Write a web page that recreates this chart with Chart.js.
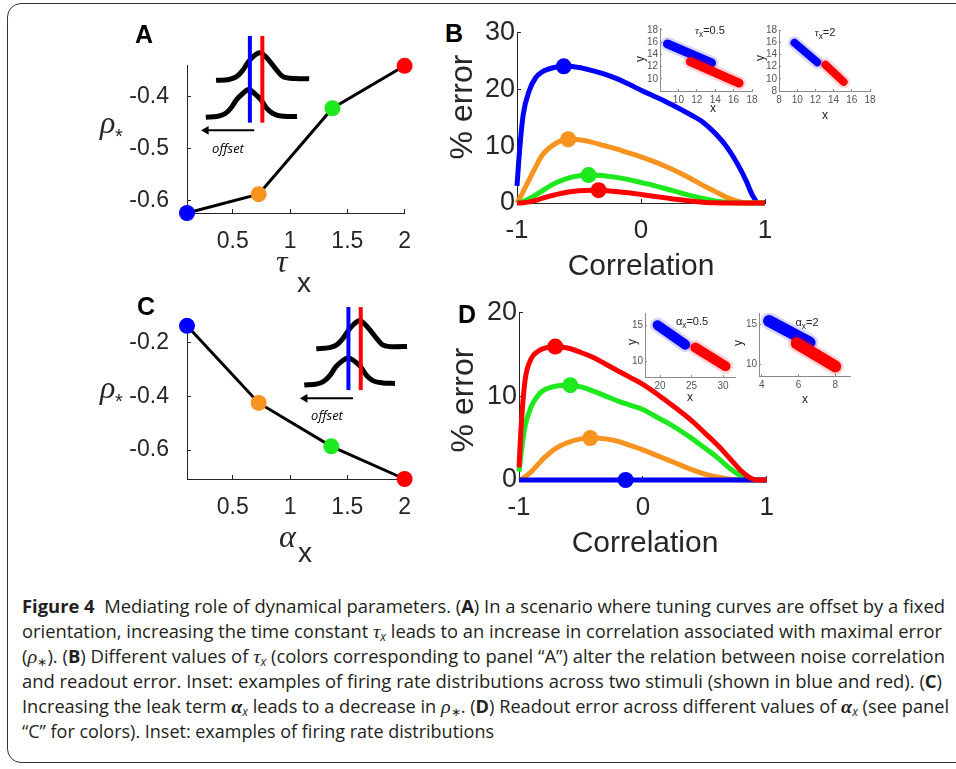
<!DOCTYPE html>
<html>
<head>
<meta charset="utf-8">
<title>Figure 4</title>
<script src="https://cdn.jsdelivr.net/npm/chart.js@4/dist/chart.umd.min.js"></script>
<style>
  body { margin: 0; width: 956px; height: 769px; background: #fff; position: relative; overflow: hidden;
         font-family: "Liberation Sans", Arial, sans-serif; }
  .frame { position: absolute; left: 7px; top: 3px; width: 1000px; height: 758px;
           border: 1.5px solid #333; border-radius: 14px; }
  canvas { position: absolute; }
  .t { position: absolute; white-space: nowrap; line-height: 1; color: #262626; }
  .g { font-family: "Liberation Serif", serif; font-style: italic; }
  .sb { font-size: 0.75em; position: relative; top: 0.35em; }
  .cap { position: absolute; left: 22px; white-space: nowrap; line-height: 1; color: #231f20;
         font-family: "Open Sans", sans-serif; font-size: 18px; transform-origin: 0 0; }
  .cap .gs { font-family: "Liberation Serif", serif; font-style: italic; font-size: 1.1em; }
  .cap sub { font-size: 0.65em; vertical-align: -0.25em; line-height: 0; }
</style>
</head>
<body>
<div class="frame"></div>
<script>
// panel A / C : parameter vs rho*
const tauX = [0.1, 0.726, 1.37, 2.0];
const rhoStarTau = [-0.623, -0.587, -0.423, -0.342];
const alphaX = [0.1, 0.726, 1.36, 2.0];
const rhoStarAlpha = [-0.139, -0.425, -0.586, -0.707];
const paramColors = ['#0000ff', '#f7931e', '#1ee81e', '#ff0000'];
const ticksParam = [0.5, 1, 1.5, 2];
const ticksRhoA = [-0.6, -0.5, -0.4];
const ticksRhoC = [-0.6, -0.4, -0.2];

// panel B / D : % error vs correlation
const corr = [-1, -0.98, -0.95, -0.9, -0.85, -0.8, -0.7, -0.6, -0.5, -0.4, -0.3, -0.2, -0.1,
              0, 0.1, 0.2, 0.3, 0.4, 0.5, 0.6, 0.7, 0.8, 0.85, 0.9, 0.95, 1];
const errB_blue   = [3, 9, 15.5, 19.8, 22, 23, 23.8, 24, 23.8, 23.3, 22.7, 21.9, 20.9, 19.8, 18.8, 17.8, 16.7, 15.5, 14.2, 12.2, 9.6, 6, 3.8, 1.3, 0, 0];
const errB_orange = [0, 0.8, 2, 4.2, 6.3, 8.3, 10.3, 11.2, 11.1, 10.7, 10.1, 9.5, 8.8, 8.1, 7.3, 6.4, 5.4, 4.3, 3.1, 2.0, 0.9, 0.2, 0, 0, 0, 0];
const errB_green  = [0, 0.1, 0.3, 0.8, 1.4, 2.1, 3.4, 4.3, 4.8, 4.9, 4.8, 4.5, 4.1, 3.6, 3.1, 2.5, 1.9, 1.3, 0.8, 0.35, 0.1, 0, 0, 0, 0, 0];
const errB_red    = [0, 0, 0.05, 0.2, 0.45, 0.8, 1.4, 1.9, 2.15, 2.25, 2.2, 2.0, 1.8, 1.5, 1.2, 0.9, 0.6, 0.35, 0.15, 0.05, 0, 0, 0, 0, 0, 0];
const errD_blue   = [0, 0, 0, 0, 0, 0, 0, 0, 0, 0, 0, 0, 0, 0, 0, 0, 0, 0, 0, 0, 0, 0, 0, 0, 0, 0];
const errD_orange = [0, 0.1, 0.4, 1, 1.8, 2.6, 3.8, 4.5, 4.9, 5.0, 4.9, 4.6, 4.1, 3.6, 3.0, 2.4, 1.8, 1.2, 0.7, 0.35, 0.1, 0, 0, 0, 0, 0];
const errD_green  = [1, 3.5, 6.5, 8.8, 10, 10.7, 11.2, 11.3, 11.1, 10.6, 10, 9.4, 8.9, 8.4, 7.6, 6.8, 5.9, 4.9, 3.8, 2.7, 1.4, 0.4, 0.1, 0, 0, 0];
const errD_red    = [1.5, 7, 12, 14.5, 15.3, 15.7, 15.9, 15.7, 15.2, 14.6, 13.8, 13, 12.2, 11.4, 10.4, 9.3, 8.2, 7, 5.6, 4.2, 2.6, 1, 0.4, 0.05, 0, 0];
const peakB = [24, 11.2, 4.9, 2.25];   // error at rho* (blue, orange, green, red)
const peakD = [0, 5.0, 11.3, 15.9];
const ticksCorr = [-1, 0, 1];
const ticksErrB = [0, 10, 20, 30];
const ticksErrD = [0, 10, 20];

// inset clouds: [start, end] of each elongated point cloud
const cloudB1_blue = [[8.8, 15.7], [13.6, 12.6]];
const cloudB1_red  = [[11.3, 12.8], [16.6, 9.3]];
const cloudB2_blue = [[9.7, 15.9], [12.2, 12.7]];
const cloudB2_red  = [[13.1, 12.3], [15.1, 9.5]];
const cloudD1_blue = [[19.6, 15.0], [24.0, 12.3]];
const cloudD1_red  = [[25.6, 11.9], [30.4, 9.3]];
const cloudD2_blue = [[4.4, 15.4], [6.6, 12.7]];
const cloudD2_red  = [[5.9, 12.6], [8.0, 9.7]];
const ticksB_xy  = [10, 12, 14, 16, 18];
const ticksB2_xy = [8, 10, 12, 14, 16, 18];
const ticksD1_x = [20, 25, 30];
const ticksD2_x = [4, 6, 8];
const ticksD_y  = [10, 15];

// schematic tuning curves (local units of the schematic box)
const tuneA_top_x = [28, 42, 50, 56, 62, 68, 75, 81, 87, 94, 100, 113, 128];
const tuneA_top_y = [58, 57, 54, 48, 39, 32, 28, 32, 39, 48, 54, 56, 56.3];
const tuneA_bot_x = [17, 30, 38, 44, 50, 57, 63, 69, 76, 82, 89, 100, 115];
const tuneA_bot_y = [98, 97, 94, 88, 79, 72, 68, 72, 79, 88, 94, 97, 97.3];
const markA = { blue: 64.3, red: 77.7, y0: 9.7, y1: 104, arrowFrom: 69, arrowTo: 13.3, arrowY: 112.3 };
const tuneC_top_x = [23, 37, 45, 51, 57, 63, 70, 76, 82, 89, 95, 108, 121];
const tuneC_top_y = [53.3, 52, 49, 43, 34, 27, 22.3, 27, 34, 43, 49, 51, 50.7];
const tuneC_bot_x = [10, 24, 32, 38, 44, 51, 57.7, 64, 71, 77, 84, 95, 108];
const tuneC_bot_y = [92.7, 91.5, 88, 82, 73, 66.5, 63.3, 66.5, 73, 82, 88, 90.5, 91];
const markC = { blue: 57.7, red: 71, y0: 7.7, y1: 98.3, arrowFrom: 62.7, arrowTo: 6.7, arrowY: 107.3 };

Chart.defaults.animation = false;
Chart.defaults.responsive = false;
Chart.defaults.devicePixelRatio = 1;
Chart.defaults.plugins.legend.display = false;
Chart.defaults.plugins.tooltip.enabled = false;
Chart.defaults.font.family = '"Liberation Sans", Arial, sans-serif';

const AX = '#262626';

function addCanvas(b) {
  const c = document.createElement('canvas');
  c.width = b.w; c.height = b.h;
  c.style.left = b.x + 'px'; c.style.top = b.y + 'px';
  document.body.appendChild(c);
  return c;
}

function scale(min, max, ticks, fixed, o) {
  return {
    type: 'linear', min: min, max: max,
    afterBuildTicks: s => { s.ticks = ticks.map(v => ({ value: v })); },
    afterFit: s => { if (s.isHorizontal()) s.height = fixed; else s.width = fixed; },
    border: { display: true, color: o.axis, width: 1 },
    grid: { drawOnChartArea: false, drawTicks: true, tickLength: -o.tl, color: o.axis },
    ticks: { autoSkip: false, maxRotation: 0, color: o.color, font: { size: o.size }, padding: o.pad,
             callback: v => String(v) }
  };
}

function plot(box, area, xs, ys, datasets) {
  return new Chart(addCanvas(box), {
    type: 'scatter',
    data: { datasets: datasets },
    options: {
      layout: { padding: { left: 0, top: area.top - box.y, right: box.x + box.w - area.right, bottom: 0 } },
      scales: {
        x: scale(xs.min, xs.max, xs.ticks, box.y + box.h - area.bottom, xs),
        y: scale(ys.min, ys.max, ys.ticks, area.left - box.x, ys)
      }
    }
  });
}

const pts = (xs, ys) => xs.map((x, i) => ({ x: x, y: ys[i] }));
const curve = (ys, color, order) => ({ data: pts(corr, ys), showLine: true, borderColor: color, borderWidth: 5,
  pointRadius: 0, cubicInterpolationMode: 'monotone', clip: false, order: order });
const dots = (xs, ys) => ({ data: pts(xs, ys), showLine: false, pointRadius: 8, pointBorderWidth: 0,
  pointBackgroundColor: paramColors, clip: false, order: 0 });

// ---- A
plot({ x: 100, y: 30, w: 330, h: 240 }, { left: 187, top: 57, right: 405, bottom: 213 },
  { min: 0.1, max: 2, ticks: ticksParam, axis: AX, color: AX, size: 23, tl: 4, pad: 19 },
  { min: -0.623, max: -0.342, ticks: ticksRhoA, axis: AX, color: AX, size: 23, tl: 4, pad: 22 },
  [ { data: pts(tauX, rhoStarTau), showLine: true, borderColor: '#000', borderWidth: 3, pointRadius: 0, clip: false, order: 1 },
    dots(tauX, rhoStarTau) ]);

// ---- C
plot({ x: 100, y: 290, w: 330, h: 240 }, { left: 187, top: 320, right: 405, bottom: 479 },
  { min: 0.1, max: 2, ticks: ticksParam, axis: AX, color: AX, size: 23, tl: 4, pad: 19 },
  { min: -0.707, max: -0.139, ticks: ticksRhoC, axis: AX, color: AX, size: 23, tl: 4, pad: 22 },
  [ { data: pts(alphaX, rhoStarAlpha), showLine: true, borderColor: '#000', borderWidth: 3, pointRadius: 0, clip: false, order: 1 },
    dots(alphaX, rhoStarAlpha) ]);

// ---- B
plot({ x: 470, y: 10, w: 320, h: 240 }, { left: 517, top: 32, right: 765, bottom: 203 },
  { min: -1, max: 1, ticks: ticksCorr, axis: AX, color: AX, size: 26, tl: 4, pad: 16 },
  { min: 0, max: 30, ticks: ticksErrB, axis: AX, color: AX, size: 27, tl: 4, pad: 6 },
  [ curve(errB_blue, paramColors[0], 5), curve(errB_orange, paramColors[1], 4),
    curve(errB_green, paramColors[2], 3), curve(errB_red, paramColors[3], 2),
    dots(rhoStarTau, peakB) ]);

// ---- D
plot({ x: 470, y: 290, w: 320, h: 240 }, { left: 519, top: 308, right: 768, bottom: 480 },
  { min: -1, max: 1, ticks: ticksCorr, axis: AX, color: AX, size: 26, tl: 4, pad: 16 },
  { min: 0, max: 20, ticks: ticksErrD, axis: AX, color: AX, size: 27, tl: 4, pad: 6 },
  [ curve(errD_orange, paramColors[1], 5), curve(errD_green, paramColors[2], 4),
    curve(errD_blue, paramColors[0], 3), curve(errD_red, paramColors[3], 2),
    dots(rhoStarAlpha, peakD) ]);

// ---- scatter insets
function cloud(seg, color, width) {
  const d = seg.map(p => ({ x: p[0], y: p[1] }));
  return [
    { data: d, showLine: true, borderColor: color.replace('1)', '0.16)'), borderWidth: width + 5, borderCapStyle: 'round', pointRadius: 0 },
    { data: d, showLine: true, borderColor: color, borderWidth: width, borderCapStyle: 'round', pointRadius: 0 }
  ];
}
const BLUE = 'rgba(0,0,255,1)', RED = 'rgba(255,0,0,1)';
const IAX = '#8a8a8a', ITK = '#555';
function inset(box, area, xs, ys, blue, red, w) {
  const ix = Object.assign({ axis: IAX, color: ITK, size: 10, tl: 2, pad: 5 }, xs);
  const iy = Object.assign({ axis: IAX, color: ITK, size: 10, tl: 2, pad: 4 }, ys);
  plot(box, area, ix, iy, [...cloud(red, RED, w), ...cloud(blue, BLUE, w)]);
}
inset({ x: 625, y: 16, w: 140, h: 100 }, { left: 660, top: 28, right: 752, bottom: 91 },
  { min: 8, max: 18, ticks: ticksB_xy }, { min: 8, max: 18.3, ticks: ticksB_xy }, cloudB1_blue, cloudB1_red, 9);
inset({ x: 745, y: 16, w: 140, h: 100 }, { left: 779, top: 30, right: 870, bottom: 91 },
  { min: 8, max: 18, ticks: ticksB2_xy }, { min: 8, max: 18, ticks: ticksB2_xy }, cloudB2_blue, cloudB2_red, 8);
inset({ x: 610, y: 300, w: 140, h: 100 }, { left: 645, top: 313, right: 735, bottom: 377 },
  { min: 17.6, max: 31.9, ticks: ticksD1_x }, { min: 7.8, max: 16.7, ticks: ticksD_y }, cloudD1_blue, cloudD1_red, 10);
inset({ x: 725, y: 300, w: 140, h: 100 }, { left: 759, top: 313, right: 850, bottom: 376 },
  { min: 3.85, max: 8.8, ticks: ticksD2_x }, { min: 8.5, max: 16.4, ticks: ticksD_y }, cloudD2_blue, cloudD2_red, 12);

// ---- schematic tuning curves
function schematic(box, topX, topY, botX, botY, m) {
  const line = (d, color, w) => ({ data: d, showLine: true, borderColor: color, borderWidth: w, pointRadius: 0,
    cubicInterpolationMode: 'monotone', clip: false });
  new Chart(addCanvas(box), {
    type: 'scatter',
    data: { datasets: [
      line(pts(topX, topY), '#000', 5),
      line(pts(botX, botY), '#000', 5),
      line([{ x: m.blue, y: m.y0 }, { x: m.blue, y: m.y1 }], '#0000ff', 4),
      line([{ x: m.red, y: m.y0 }, { x: m.red, y: m.y1 }], '#ff0000', 4),
      line([{ x: m.arrowFrom, y: m.arrowY }, { x: m.arrowTo + 4, y: m.arrowY }], '#000', 2),
      { data: [{ x: m.arrowTo + 4, y: m.arrowY }], pointStyle: 'triangle', rotation: -90, pointRadius: 5,
        pointBackgroundColor: '#000', pointBorderWidth: 0, clip: false }
    ].reverse() },
    options: {
      layout: { padding: 0 },
      scales: {
        x: { type: 'linear', display: false, min: 0, max: box.w },
        y: { type: 'linear', display: false, min: 0, max: box.h, reverse: true }
      }
    }
  });
}
schematic({ x: 185, y: 22, w: 145, h: 125 }, tuneA_top_x, tuneA_top_y, tuneA_bot_x, tuneA_bot_y, markA);
schematic({ x: 290, y: 295, w: 135, h: 120 }, tuneC_top_x, tuneC_top_y, tuneC_bot_x, tuneC_bot_y, markC);

// ---- text
function txt(html, x, base, size, extra) {
  const d = document.createElement('div');
  d.className = 't';
  d.innerHTML = html;
  d.style.fontSize = size + 'px';
  d.style.top = (base - 0.85 * size) + 'px';
  d.style.left = x + 'px';
  if (extra && extra.center) d.style.transform = 'translateX(-50%)';
  if (extra && extra.css) d.style.cssText += extra.css;
  document.body.appendChild(d);
  return d;
}
function vtxt(html, cx, cy, size) {
  const d = document.createElement('div');
  d.className = 't';
  d.innerHTML = html;
  d.style.fontSize = size + 'px';
  d.style.left = cx + 'px'; d.style.top = cy + 'px';
  d.style.transform = 'translate(-50%,-50%) rotate(-90deg)';
  document.body.appendChild(d);
}

// panel letters
txt('A', 135, 43, 25, { css: 'font-weight:bold;color:#000' });
txt('B', 445, 42, 25, { css: 'font-weight:bold;color:#000' });
txt('C', 137, 315, 25, { css: 'font-weight:bold;color:#000' });
txt('D', 458, 323, 25, { css: 'font-weight:bold;color:#000' });

// axis titles
txt('<span class="g">ρ</span>', 100, 133, 32);
txt('*', 115, 143, 20);
txt('<span class="g">ρ</span>', 100, 398, 32);
txt('*', 115, 408, 20);
txt('<span class="g">τ</span>', 276, 272, 32);
txt('x', 297, 293, 28);
txt('<span class="g">α</span>', 279, 547, 32);
txt('x', 298, 563, 28);
vtxt('% error', 461, 107, 32);
vtxt('% error', 462, 400, 32);
txt('Correlation', 641, 275, 30, { center: true });
txt('Correlation', 645, 552, 30, { center: true });

// schematic labels
txt('<i>offset</i>', 228, 153, 13, { center: true, css: 'font-family:"Open Sans",sans-serif;color:#000' });
txt('<i>offset</i>', 327, 420, 13, { center: true, css: 'font-family:"Open Sans",sans-serif;color:#000' });

// inset labels
const small = { center: true, css: 'color:#222' };
txt('<span class="g">τ</span><span class="sb">x</span>=0.5', 710, 34, 11, small);
txt('<span class="g">τ</span><span class="sb">x</span>=2', 825, 36, 11, small);
txt('α<span class="sb">x</span>=0.5', 692, 325, 11, small);
txt('α<span class="sb">x</span>=2', 807, 326, 11, small);
txt('x', 713, 112, 12, small);
txt('x', 825, 119, 12, small);
txt('x', 690, 401, 12, small);
txt('x', 805, 403, 12, small);
vtxt('y', 640, 59, 12);
vtxt('y', 760, 58, 12);
vtxt('y', 632, 342, 12);
vtxt('y', 738, 343, 12);

// ---- caption
const capLines = [
  '<b>Figure 4</b>&nbsp; Mediating role of dynamical parameters. (<b>A</b>) In a scenario where tuning curves are offset by a fixed',
  'orientation, increasing the time constant <span class="gs">τ</span><sub><i>x</i></sub> leads to an increase in correlation associated with maximal error',
  '(<span class="gs">ρ</span><sub>∗</sub>). (<b>B</b>) Different values of <span class="gs">τ</span><sub><i>x</i></sub> (colors corresponding to panel “A”) alter the relation between noise correlation',
  'and readout error. Inset: examples of firing rate distributions across two stimuli (shown in blue and red). (<b>C</b>)',
  'Increasing the leak term <b><span class="gs">α</span></b><sub><i>x</i></sub> leads to a decrease in <span class="gs">ρ</span><sub>∗</sub>. (<b>D</b>) Readout error across different values of <b><span class="gs">α</span></b><sub><i>x</i></sub> (see panel',
  '“C” for colors). Inset: examples of firing rate distributions'
];
const capRight = [945, 942, 945, 942, 949, 494];
const capBase = [613, 638, 663, 688, 713, 738];
capLines.forEach((h, i) => {
  const d = document.createElement('div');
  d.className = 'cap';
  d.innerHTML = h;
  d.style.top = (capBase[i] - 0.888 * 18) + 'px';
  document.body.appendChild(d);
  const w = d.getBoundingClientRect().width;
  d.style.transform = 'scaleX(' + ((capRight[i] - 22) / w) + ')';
});
</script>
</body>
</html>
